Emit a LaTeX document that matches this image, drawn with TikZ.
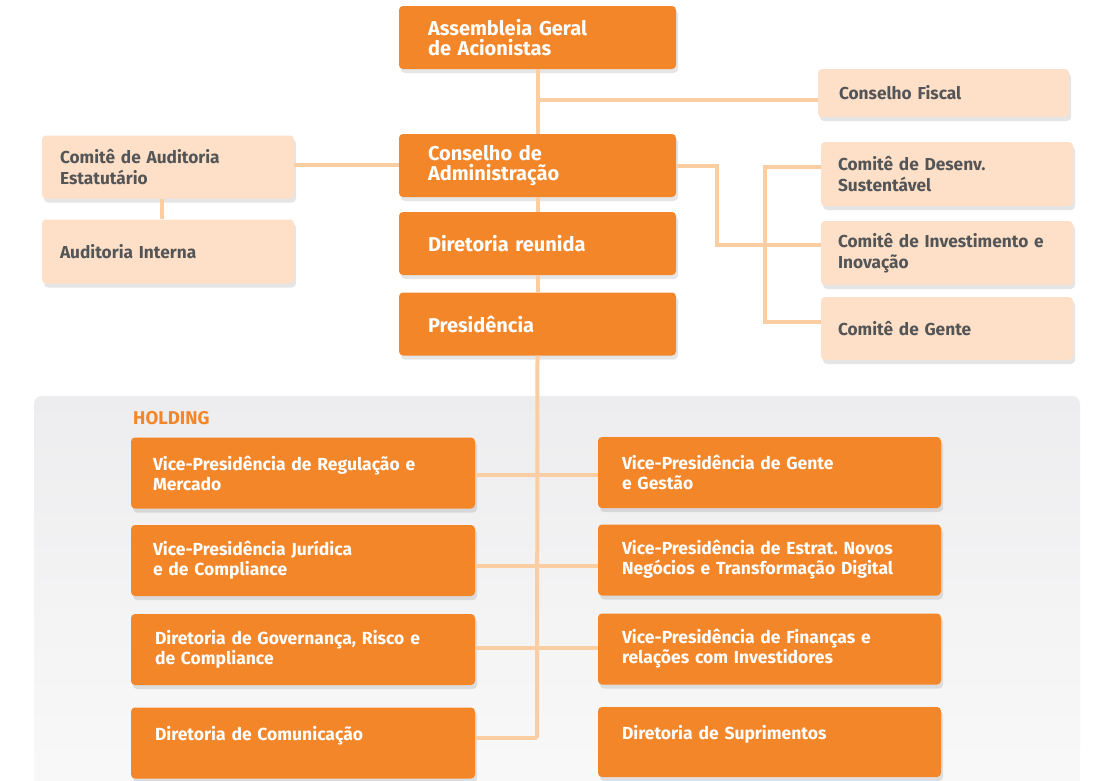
\documentclass[tikz,border=0pt]{standalone}
\usepackage{fontspec}
\setmainfont{Fira Sans}
\usetikzlibrary{shadows}
\frenchspacing
\definecolor{org}{HTML}{F4862A}
\definecolor{peach}{HTML}{FDE0C7}
\definecolor{lnk}{HTML}{FBCDA2}
\definecolor{gtxt}{HTML}{545557}
\definecolor{bgA}{HTML}{EDEDEF}
\definecolor{bgB}{HTML}{F9F9F9}
\tikzset{
  boxbase/.style={rectangle, rounded corners=4pt, align=left, font=\bfseries\fontsize{17}{20}\selectfont,
    drop shadow={shadow xshift=2pt, shadow yshift=-4pt, opacity=0.10, fill=black}},
  topbox/.style={boxbase, fill=org, text=white, minimum width=277pt, text width=219pt, inner xsep=29pt, minimum height=63pt, font=\bfseries\fontsize{20}{20}\selectfont},
  pbox/.style={boxbase, fill=peach, text=gtxt, minimum width=252pt, text width=218pt, inner xsep=17pt, minimum height=64pt, font=\bfseries\fontsize{17.3}{20.5}\selectfont},
  hbox/.style={boxbase, fill=org, text=white, minimum width=344pt, text width=300pt, inner xsep=22pt, minimum height=71pt, font=\bfseries\fontsize{17.5}{20}\selectfont},
  link/.style={draw=lnk, line width=4pt}
}
\begin{document}
\begin{tikzpicture}[x=1pt,y=-1pt]
\useasboundingbox (0,0) rectangle (1105,780);
\fill[white] (0,0) rectangle (1105,780);
% holding background
\shade[top color=bgA, bottom color=bgB, rounded corners=8pt] (34,396) rectangle (1080,800);
\node[anchor=west, text=org, font=\bfseries\fontsize{18.5}{20}\selectfont, inner sep=0pt] (hold) at (133,418) {HOLDING};

\coordinate (spinebot) at (537,738);
\coordinate (kf) at (537,100);
\coordinate (kl) at (717,245);
\coordinate (kb) at (765,167);

% nodes
\node[topbox] (ag) at (537.5,37.5) {Assembleia Geral\\de Acionistas};
\node[pbox, minimum width=251pt, minimum height=48pt, inner xsep=21pt, text width=209pt] (cf) at (943.5,93) {Conselho Fiscal};
\node[topbox] (ca) at (537.5,165.5) {Conselho de\\Administração};
\node[topbox] (dr) at (537.5,243.5) {Diretoria reunida};
\node[topbox] (pr) at (537.5,324) {Presidência};
\node[pbox, inner xsep=18pt, text width=216pt, minimum height=63pt] (cae) at (168,167) {Comitê de Auditoria\\Estatutário};
\node[pbox, inner xsep=18pt, text width=216pt] (ai) at (168,251.5) {Auditoria Interna};
\node[pbox] (cds) at (947,174) {Comitê de Desenv.\\Sustentável};
\node[pbox] (cii) at (947,253) {Comitê de Investimento e\\Inovação};
\node[pbox, minimum height=63pt] (cg) at (947,328.5) {Comitê de Gente};

\node[hbox] (l1) at (303,473) {Vice-Presidência de Regulação e\\Mercado};
\node[hbox] (l2) at (303,560.5) {Vice-Presidência Jurídica\\e de Compliance};
\node[hbox, inner xsep=24pt, text width=296pt] (l3) at (303,649.5) {Diretoria de Governança, Risco e\\de Compliance};
\node[hbox, inner xsep=24pt, text width=296pt] (l4) at (303,743) {Diretoria de Comunicação\\\mbox{}};
\node[hbox, minimum width=343pt, inner xsep=24pt, text width=295pt] (r1) at (769.5,472.5) {Vice-Presidência de Gente\\e Gestão};
\node[hbox, minimum width=343pt, inner xsep=24pt, text width=295pt] (r2) at (769.5,560) {Vice-Presidência de Estrat. Novos\\Negócios e Transformação Digital};
\node[hbox, minimum width=343pt, inner xsep=24pt, text width=295pt] (r3) at (769.5,649) {Vice-Presidência de Finanças e\\relações com Investidores};
\node[hbox, minimum width=343pt, inner xsep=24pt, text width=295pt, minimum height=70pt] (r4) at (769.5,742) {Diretoria de Suprimentos\\\mbox{}};

% connectors
\draw[link] (ag.south) -- (ca.north);
\draw[link] (ca.south) -- (dr.north);
\draw[link] (dr.south) -- (pr.north);
\draw[link] (pr.south) -- (spinebot);
\draw[link] (kf) -- (cf.west |- kf);
\draw[link] (cae.east |- 0,165) -- (ca.west |- 0,165);
\draw[link] ([xshift=-6pt]cae.south) -- ([xshift=-6pt]ai.north);
\draw[link] (ca.east |- 0,166) -| (kl) -- (cii.west |- kl);
\draw[link] (cds.west |- kb) -| (765,322) -- (cg.west |- 0,322);
\draw[link] (l1.east |- 0,475) -- (r1.west |- 0,475);
\draw[link] (l2.east |- 0,566) -- (r2.west |- 0,566);
\draw[link] (l3.east |- 0,648) -- (r3.west |- 0,648);
\draw[link] (l4.east |- spinebot) -- (spinebot);
\end{tikzpicture}
\end{document}
